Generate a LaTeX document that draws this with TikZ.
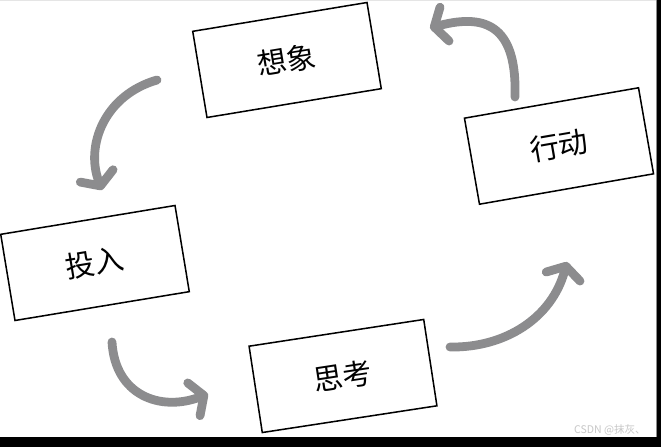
\documentclass[tikz,border=0pt]{standalone}
\usepackage{fontspec}
\newfontfamily\cjk{Noto Sans CJK SC}
\usetikzlibrary{arrows.meta}
\definecolor{arrowgray}{RGB}{140,140,142}
\begin{document}
\begin{tikzpicture}[x=0.03cm, y=-0.03cm,
    stagebox/.style={draw=black, line width=1.3pt, fill=white, minimum width=5.3cm, minimum height=2.62cm, inner sep=0pt, font=\cjk\fontsize{25pt}{25pt}\selectfont},
    cyclearrow/.style={draw=arrowgray, line width=7.5pt, line cap=round, -{Straight Barb[length=0.32cm, width=1.05cm, round]}}]
    \useasboundingbox (0,0) rectangle (661,447);
    \fill[white] (0,0) rectangle (661,447);
    \fill[black!10] (0,0) rectangle (661,1.5);
    \fill[black] (0,437) rectangle (661,447);
    \fill[black] (657,0) rectangle (661,447);
    \fill[black!45] (655.5,0) rectangle (657,437);

    % the four stages
    \node[stagebox, rotate=9.4] (xiang) at (287,60) {想象};
    \node[stagebox, rotate=9.9] (xing) at (559,146) {行动};
    \node[stagebox, rotate=9.4] (tou) at (95,263) {投入};
    \node[stagebox, rotate=8.7] (si) at (343,376) {思考};

    % free ends of the arrows
    \coordinate (a1s) at (157,80);  \coordinate (a1e) at (102,190);
    \coordinate (a2s) at (112,342); \coordinate (a2e) at (208,394);
    \coordinate (a3s) at (450,347); \coordinate (a3e) at (567,262);
    \coordinate (a4s) at (515,97);  \coordinate (a4e) at (430,28);

    \draw[cyclearrow] (a1s) .. controls (105,95) and (85,145) .. (a1e);
    \draw[cyclearrow] (a2s) .. controls (115,395) and (160,412) .. (a2e);
    \draw[cyclearrow] (a3s) .. controls (505,348) and (552,318) .. (a3e);
    \draw[cyclearrow] (a4s) .. controls (517,30) and (490,12) .. (a4e);

    \node[text=black!22, font=\cjk\fontsize{9pt}{9pt}\selectfont] (mark) at (610,430) {CSDN @抹灰、};
\end{tikzpicture}
\end{document}
